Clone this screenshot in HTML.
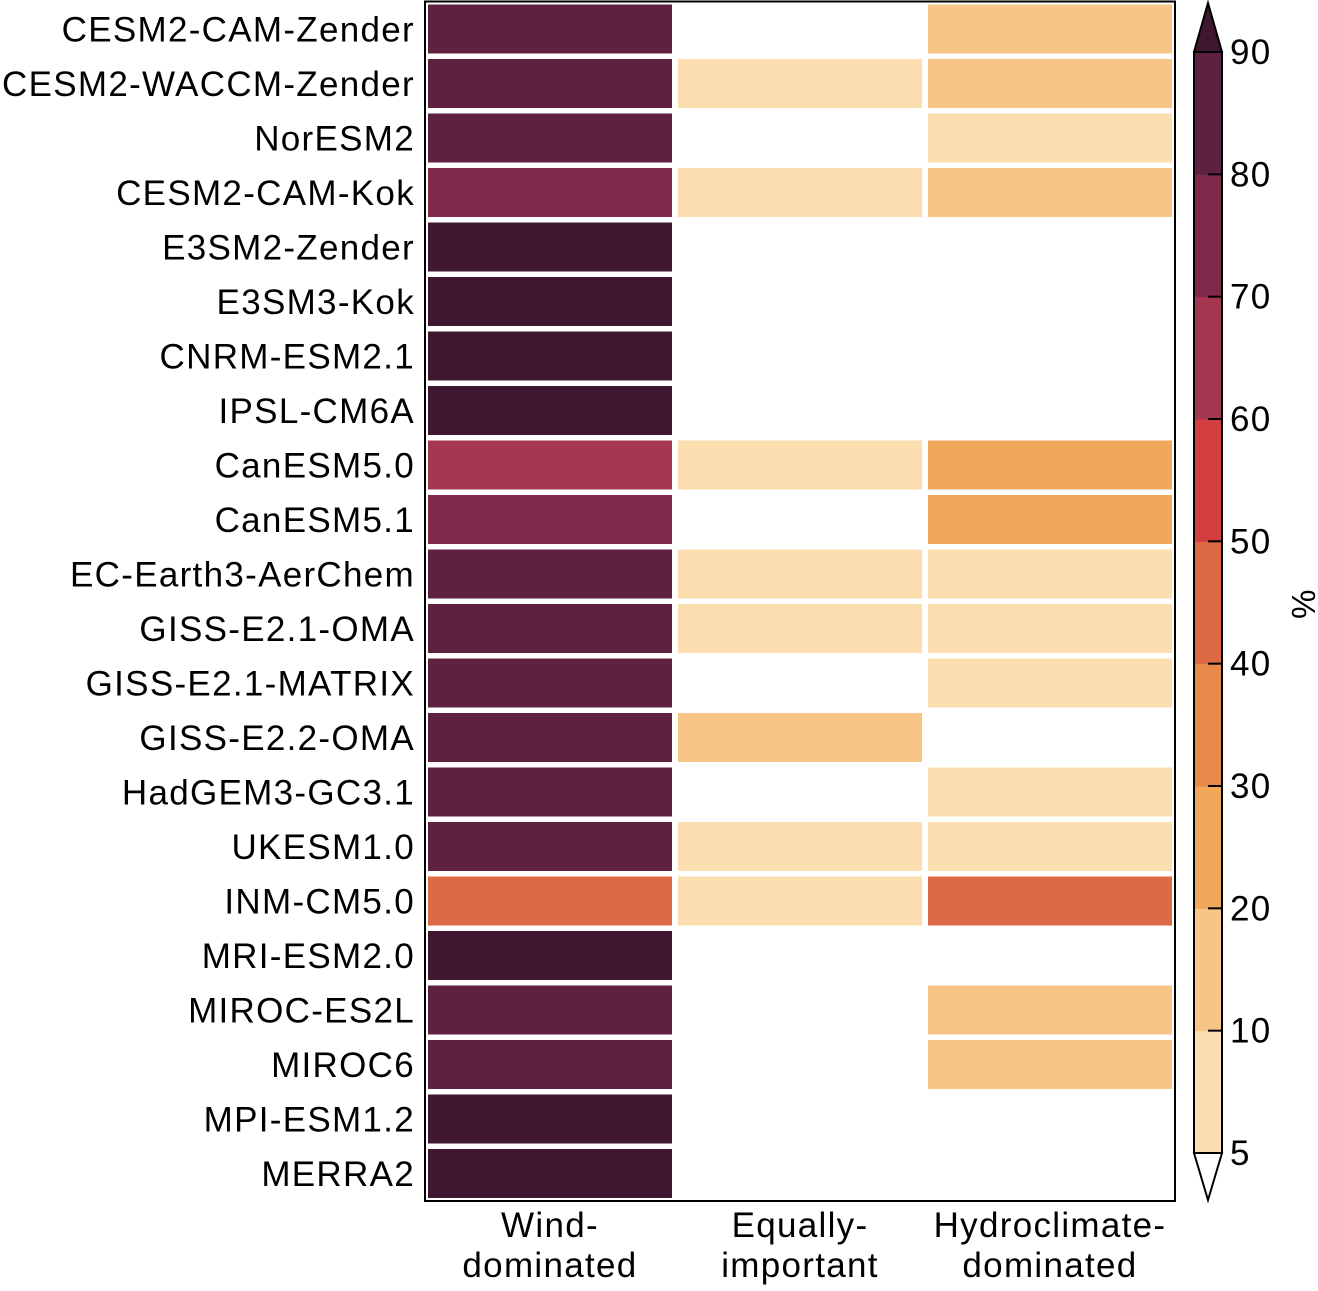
<!DOCTYPE html>
<html><head><meta charset="utf-8"><style>
body{margin:0;background:#fff;}
svg text{font-family:"Liberation Sans",Arial,sans-serif;fill:#000;letter-spacing:1.3px;}
</style></head><body>
<svg id="chart" width="1318" height="1286" viewBox="0 0 1318 1286" xmlns="http://www.w3.org/2000/svg">
<g id="cells"></g>
<g id="ylabels"></g>
<g id="xlabels"></g>
<rect x="425" y="1.5" width="750" height="1199.5" fill="none" stroke="#000" stroke-width="2"/>
<g id="cbar"></g>
<text x="1292" y="605" font-size="33" text-anchor="middle" transform="rotate(90 1292 605)">%</text>
</svg>
<script>
const models=["CESM2-CAM-Zender","CESM2-WACCM-Zender","NorESM2","CESM2-CAM-Kok","E3SM2-Zender","E3SM3-Kok","CNRM-ESM2.1","IPSL-CM6A","CanESM5.0","CanESM5.1","EC-Earth3-AerChem","GISS-E2.1-OMA","GISS-E2.1-MATRIX","GISS-E2.2-OMA","HadGEM3-GC3.1","UKESM1.0","INM-CM5.0","MRI-ESM2.0","MIROC-ES2L","MIROC6","MPI-ESM1.2","MERRA2"];
const categories=[["Wind-","dominated"],["Equally-","important"],["Hydroclimate-","dominated"]];
const windVals=[85,85,85,75,95,95,95,95,65,75,85,85,85,85,85,85,45,95,85,85,95,95];
const equalVals=[3,7,3,7,3,3,3,3,7,3,7,7,3,15,3,7,7,3,3,3,3,3];
const hydroVals=[15,15,7,15,3,3,3,3,25,25,7,7,7,3,7,7,45,3,15,15,3,3];
const levels=[5,10,20,30,40,50,60,70,80,90];
const levelColors=["#fbdeaf","#f8c589","#f2a85b","#e88a4c","#dc6a46","#d33f40","#a63752","#7f2a4c","#5e2240"];
const overColor="#3f1730";
const NS="http://www.w3.org/2000/svg";
function mk(t,a){const e=document.createElementNS(NS,t);for(const k in a)e.setAttribute(k,a[k]);return e;}
function color(v){if(v<levels[0])return "#ffffff";if(v>=levels[levels.length-1])return overColor;for(let i=0;i<levels.length-1;i++)if(v<levels[i+1])return levelColors[i];}
const px0=425,py0=2,colW=250,rowH=1199/models.length;
const xCol=c=>px0+c*colW, yRow=r=>py0+r*rowH;
const series=[windVals,equalVals,hydroVals];
const cells=document.getElementById('cells');
series.forEach((vals,c)=>vals.forEach((v,r)=>{
 const rc=mk('rect',{x:xCol(c)+3,y:yRow(r)+2.5,width:colW-6,height:rowH-5.5,fill:color(v)});
 
 
 cells.appendChild(rc);
}));
const yl=document.getElementById('ylabels');
models.forEach((m,r)=>{const t=mk('text',{x:415,y:yRow(r)+rowH/2+12,'font-size':35,'text-anchor':'end'});t.textContent=m;
 
 
 yl.appendChild(t);});
const xl=document.getElementById('xlabels');
categories.forEach((ls,c)=>ls.forEach((l,i)=>{const t=mk('text',{x:xCol(c)+colW/2,y:1237+i*40,'font-size':35,'text-anchor':'middle'});t.textContent=l;
 
 
 xl.appendChild(t);}));
const cb=document.getElementById('cbar');
const cx0=1194,cx1=1222,cTop=52,cBot=1153,step=(cBot-cTop)/(levels.length-1);
const yLev=i=>cBot-i*step;
for(let i=0;i<levelColors.length;i++){const rc=mk('rect',{x:cx0,y:yLev(i+1),width:cx1-cx0,height:step+0.5,fill:levelColors[i]});
 
 
 cb.appendChild(rc);}
const up=mk('polygon',{points:`${cx0},${cTop} ${cx1},${cTop} ${(cx0+cx1)/2},3`,fill:overColor,stroke:'#000','stroke-width':2});


cb.appendChild(up);
const dn=mk('polygon',{points:`${cx0},${cBot} ${cx1},${cBot} ${(cx0+cx1)/2},1200`,fill:'#fff',stroke:'#000','stroke-width':2});


cb.appendChild(dn);
cb.appendChild(mk('rect',{x:cx0,y:cTop,width:cx1-cx0,height:cBot-cTop,fill:'none',stroke:'#000','stroke-width':2}));
levels.forEach((l,i)=>{const y=yLev(i);
 cb.appendChild(mk('line',{x1:cx1-14,x2:cx1,y1:y,y2:y,stroke:'#000','stroke-width':2}));
 const t=mk('text',{x:1230,y:y+12,'font-size':35});t.textContent=l;
 
 
 cb.appendChild(t);});
</script>
</body></html>
